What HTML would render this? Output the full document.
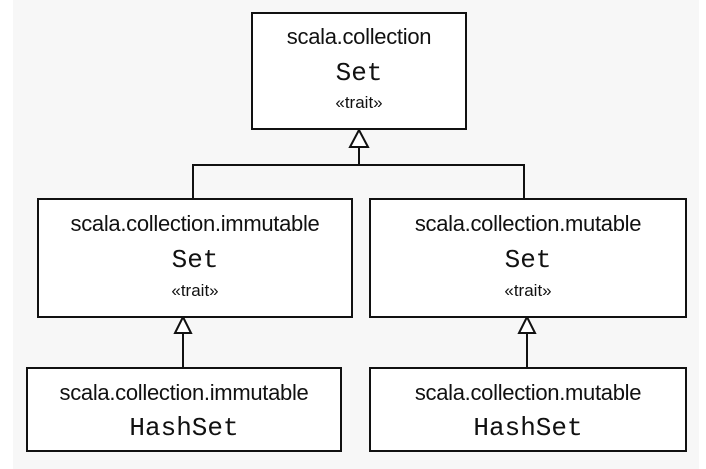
<!DOCTYPE html>
<html><head><style>
body{margin:0;background:#fff;width:706px;height:469px;position:relative;overflow:hidden;}
.bg{position:absolute;left:13px;top:0;width:686px;height:469px;background:#f7f7f7;}
.b{position:absolute;border:2px solid #111;background:#fff;box-sizing:border-box;text-align:center;font-family:"Liberation Sans",sans-serif;color:#111;}
.b div{position:absolute;left:0;right:0;height:30px;line-height:30px;white-space:nowrap;}
.p{font-size:22px;letter-spacing:-0.3px;}
.n{font-family:"Liberation Mono",monospace;font-size:26px;}
.t{font-size:17px;}
</style></head><body>
<div class="bg"></div>
<svg style="position:absolute;left:0;top:0" width="706" height="469">
<g stroke="#111" stroke-width="2" fill="#fff">
<line x1="359" y1="147" x2="359" y2="165"/>
<polyline points="193,198 193,165 524,165 524,198" fill="none"/>
<polygon points="359,130 350,147 368,147"/>
<line x1="183" y1="333" x2="183" y2="367"/>
<polygon points="183,317 175,333 191,333"/>
<line x1="527" y1="333" x2="527" y2="367"/>
<polygon points="527,317 519,333 535,333"/>
</g></svg>
<div class="b" style="left:251px;top:12px;width:216px;height:118px;">
<div class="p" style="top:8px">scala.collection</div>
<div class="n" style="top:44px">Set</div>
<div class="t" style="top:74px">«trait»</div></div>
<div class="b" style="left:37px;top:198px;width:316px;height:120px;">
<div class="p" style="top:9px">scala.collection.immutable</div>
<div class="n" style="top:45px">Set</div>
<div class="t" style="top:76px">«trait»</div></div>
<div class="b" style="left:369px;top:198px;width:318px;height:120px;">
<div class="p" style="top:9px">scala.collection.mutable</div>
<div class="n" style="top:45px">Set</div>
<div class="t" style="top:76px">«trait»</div></div>
<div class="b" style="left:26px;top:367px;width:316px;height:85px;">
<div class="p" style="top:9px">scala.collection.immutable</div>
<div class="n" style="top:44px">HashSet</div></div>
<div class="b" style="left:369px;top:367px;width:318px;height:85px;">
<div class="p" style="top:9px">scala.collection.mutable</div>
<div class="n" style="top:44px">HashSet</div></div>
</body></html>
